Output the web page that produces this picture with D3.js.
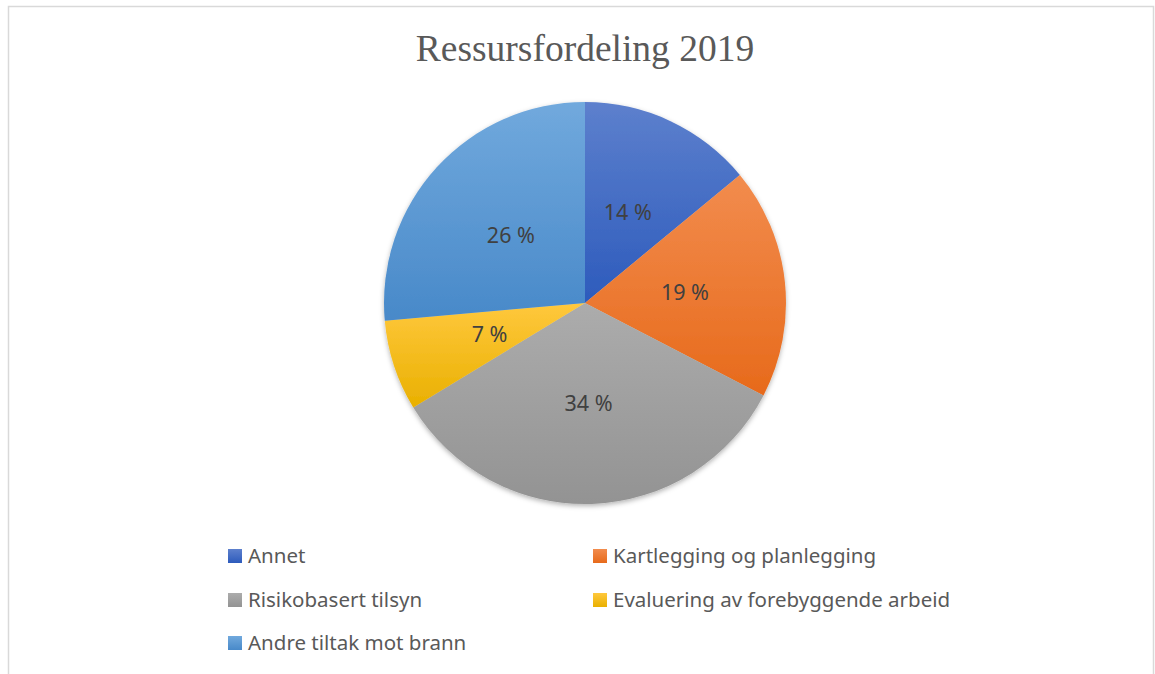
<!DOCTYPE html>
<html>
<head>
<meta charset="utf-8">
<script src="https://cdn.jsdelivr.net/npm/d3@7"></script>
<style>
  body { margin: 0; background: #ffffff; }
  svg { display: block; }
</style>
</head>
<body>
<svg id="chart"></svg>
<script>
// data (shares in %, labels are rounded)
var categories = ["Annet", "Kartlegging og planlegging", "Risikobasert tilsyn",
    "Evaluering av forebyggende arbeid", "Andre tiltak mot brann"]
var shares = [14.0, 18.6, 33.7, 7.3, 26.4]
var topColors = ["#5d80cd", "#f28c4e", "#acacac", "#ffc83d", "#71a9dd"]
var bottomColors = ["#2d5bbc", "#e76a1b", "#939393", "#e9b000", "#4889c9"]
var title = "Ressursfordeling 2019"

var screen = { width: 1155, height: 674 }
var center = { x: 585, y: 303 }
var radius = 201

var svg = d3.select("#chart")
    .attr("width", screen.width)
    .attr("height", screen.height)

var defs = svg.append("defs")

// one vertical gradient per slice
categories.forEach(function (c, i) {
    var grad = defs.append("linearGradient")
        .attr("id", "grad" + i)
        .attr("x1", 0).attr("y1", 0)
        .attr("x2", 0).attr("y2", 1)
    grad.append("stop").attr("offset", "0%").attr("stop-color", topColors[i])
    grad.append("stop").attr("offset", "100%").attr("stop-color", bottomColors[i])
})

defs.append("filter")
    .attr("id", "shadow")
    .attr("x", "-10%").attr("y", "-10%")
    .attr("width", "120%").attr("height", "120%")
    .append("feDropShadow")
    .attr("dx", 0)
    .attr("dy", 2)
    .attr("stdDeviation", 2.5)
    .attr("flood-color", "#000")
    .attr("flood-opacity", 0.3)

// chart area border
svg.append("rect")
    .attr("x", 8.5)
    .attr("y", 6.5)
    .attr("width", 1145)
    .attr("height", 720)
    .attr("fill", "none")
    .attr("stroke", "#d9d9d9")
    .attr("stroke-width", 1.5)

svg.append("text")
    .text(title)
    .attr("x", center.x)
    .attr("y", 61)
    .attr("text-anchor", "middle")
    .attr("font-family", "'Liberation Serif', 'Times New Roman', serif")
    .attr("font-size", 37.5)
    .attr("fill", "#595959")

var rows = categories.map(function (c, i) {
    return { name: c, value: shares[i], index: i }
})

var pie = d3.pie()
    .value(function (d) { return d.value })
    .sort(null)

var arc = d3.arc()
    .innerRadius(0)
    .outerRadius(radius)

var total = d3.sum(shares)

var pieGroup = svg.append("g")
    .attr("transform", "translate(" + center.x + "," + center.y + ")")

pieGroup.append("g")
    .attr("filter", "url(#shadow)")
    .selectAll("path")
    .data(pie(rows))
    .enter()
    .append("path")
    .attr("d", arc)
    .attr("fill", function (d) { return "url(#grad" + d.data.index + ")" })

pieGroup.selectAll("text.label")
    .data(pie(rows))
    .enter()
    .append("text")
    .classed("label", true)
    .attr("transform", function (d) {
        var c = arc.centroid(d)
        return "translate(" + c[0] + "," + c[1] + ")"
    })
    .attr("text-anchor", "middle")
    .attr("dy", "0.35em")
    .attr("font-family", "'Noto Sans', 'Open Sans', sans-serif")
    .attr("font-size", 21.5)
    .attr("fill", "#404040")
    .text(function (d) {
        return Math.round(d.data.value / total * 100) + " %"
    })

// legend, two columns
var legendX = [228, 593]
var legendY = [556, 600, 643]

var legend = svg.append("g")
    .selectAll("g")
    .data(rows)
    .enter()
    .append("g")
    .attr("transform", function (d) {
        return "translate(" + legendX[d.index % 2] + "," + legendY[Math.floor(d.index / 2)] + ")"
    })

legend.append("rect")
    .attr("x", 0)
    .attr("y", -7)
    .attr("width", 14)
    .attr("height", 14)
    .attr("fill", function (d) { return "url(#grad" + d.index + ")" })

legend.append("text")
    .attr("x", 20)
    .attr("dy", "0.35em")
    .attr("font-family", "'Noto Sans', 'Open Sans', sans-serif")
    .attr("font-size", 20.5)
    .attr("fill", "#595959")
    .text(function (d) { return d.name })
</script>
</body>
</html>
